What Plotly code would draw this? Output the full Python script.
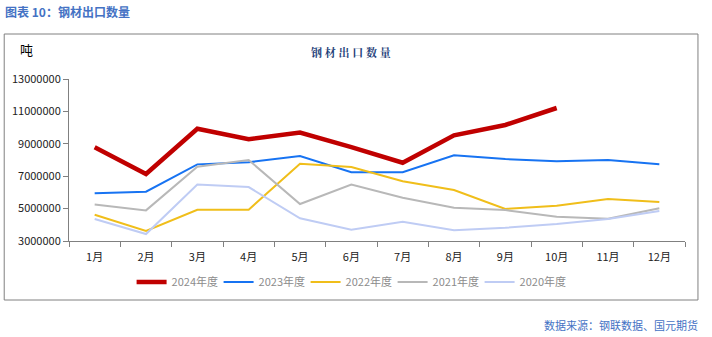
import plotly.graph_objects as go

months = ["1月", "2月", "3月", "4月", "5月", "6月", "7月", "8月", "9月", "10月", "11月", "12月"]
y2024 = [8780000, 7140000, 9930000, 9280000, 9690000, 8800000, 7830000, 9520000, 10160000, 11210000]
y2023 = [5940000, 6040000, 7730000, 7860000, 8250000, 7240000, 7240000, 8290000, 8060000, 7920000, 8000000, 7730000]
y2022 = [4620000, 3620000, 4930000, 4930000, 7770000, 7570000, 6690000, 6150000, 4980000, 5180000, 5590000, 5410000]
y2021 = [5260000, 4890000, 7590000, 8000000, 5280000, 6480000, 5670000, 5060000, 4910000, 4500000, 4380000, 5020000]
y2020 = [4360000, 3430000, 6480000, 6330000, 4400000, 3700000, 4190000, 3660000, 3820000, 4050000, 4360000, 4850000]
series_names = ["2024年度", "2023年度", "2022年度", "2021年度", "2020年度"]
y_ticks = [3000000, 5000000, 7000000, 9000000, 11000000, 13000000]

series = [y2024, y2023, y2022, y2021, y2020]
colors = ["#C00000", "#1773F2", "#F0BE1A", "#B8B8B8", "#BFCCF4"]
widths = [4.5, 2, 2, 2, 2]

fig = go.Figure()
for name, ys, c, w in zip(series_names, series, colors, widths):
    fig.add_trace(go.Scatter(x=months[:len(ys)], y=ys, mode="lines", name=name,
                             line=dict(color=c, width=w)))

W, H = 712, 337
L, R, T, B = 67, 27, 79, 96
pw, ph = W - L - R, H - T - B

def px(x):
    return (x - L) / pw

def py(y):
    return (H - B - y) / ph

font = "Noto Sans CJK SC, Noto Sans, sans-serif"

fig.update_layout(
    width=W, height=H,
    margin=dict(l=L, r=R, t=T, b=B),
    paper_bgcolor="white", plot_bgcolor="white",
    font=dict(family=font, size=11, color="#222222"),
    showlegend=True,
    legend=dict(orientation="h", x=px(348), xanchor="center", y=py(282), yanchor="middle",
                font=dict(size=11, color="#8C8C8C", family=font), itemwidth=30,
                entrywidth=42, entrywidthmode="pixels",
                bgcolor="rgba(0,0,0,0)"),
    xaxis=dict(type="category", categoryorder="array", categoryarray=months,
               range=[-0.5, 11.5], showline=True, linecolor="#808080", linewidth=1,
               ticks="outside", tickson="boundaries", ticklen=5, tickcolor="#808080",
               ticklabelstandoff=6,
               showgrid=False, zeroline=False, tickfont=dict(size=11, color="#222222")),
    yaxis=dict(range=[3000000, 13000000], tickvals=y_ticks, ticktext=[str(v) for v in y_ticks],
               showline=True, linecolor="#808080", linewidth=1, ticks="outside", ticklen=5,
               tickcolor="#808080", showgrid=False, zeroline=False,
               tickfont=dict(size=11, color="#222222")),
)

fig.add_shape(type="rect", xref="paper", yref="paper",
              x0=px(2), x1=px(698), y0=py(300), y1=py(34),
              line=dict(color="#808080", width=1), fillcolor="rgba(0,0,0,0)", layer="below")

fig.add_annotation(text="<b>图表 10：钢材出口数量</b>", xref="paper", yref="paper",
                   x=px(1), y=py(12), xanchor="left", yanchor="middle", showarrow=False,
                   font=dict(size=12, color="#4472C4", family=font))
fig.add_annotation(text="<b>钢 材 出 口 数 量</b>", xref="paper", yref="paper",
                   x=px(350), y=py(52), xanchor="center", yanchor="middle", showarrow=False,
                   font=dict(size=11, color="#1F3F7A", family="Noto Serif CJK SC, Noto Sans CJK SC, serif"))
fig.add_annotation(text="吨", xref="paper", yref="paper",
                   x=px(16), y=py(49), xanchor="left", yanchor="middle", showarrow=False,
                   font=dict(size=13, color="#000000", family=font))
fig.add_annotation(text="数据来源：钢联数据、国元期货", xref="paper", yref="paper",
                   x=px(700), y=py(325), xanchor="right", yanchor="middle", showarrow=False,
                   font=dict(size=11, color="#4472C4", family=font))

fig.write_html("out.html")
